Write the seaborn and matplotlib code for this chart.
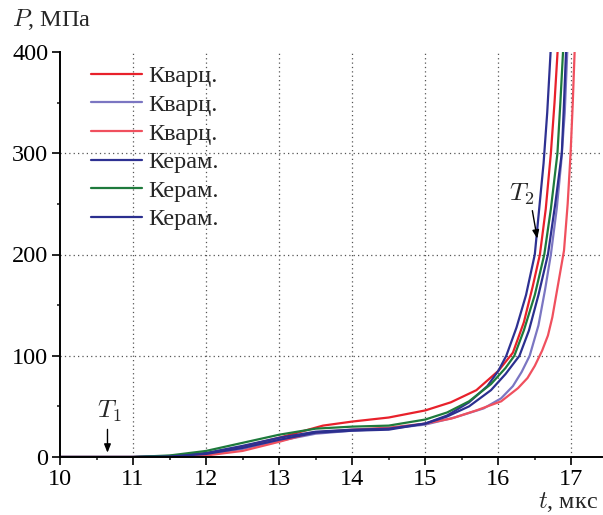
import matplotlib
matplotlib.use("Agg")
import matplotlib.pyplot as plt
import seaborn as sns
import pandas as pd
from matplotlib.ticker import MultipleLocator

# ---- data ----
t1 = [10, 11, 11.5, 12, 12.3, 12.6, 13, 13.3, 13.6, 14, 14.5, 15, 15.35, 15.7, 16.0, 16.2, 16.35, 16.47, 16.57, 16.65, 16.72, 16.77, 16.82]
p1 = [0, 0, 0.5, 3, 7, 12, 19, 25, 31, 35, 39, 46, 54, 66, 85, 103, 133, 168, 200, 245, 300, 350, 410]

t2 = [10, 11, 11.5, 12, 12.5, 13, 13.5, 14, 14.5, 15, 15.4, 15.8, 16.04, 16.2, 16.32, 16.43, 16.55, 16.64, 16.72, 16.8, 16.86, 16.91, 16.95]
p2 = [0, 0, 0.5, 2.5, 8, 16, 23, 26, 28, 32, 39, 48, 58, 70, 84, 100, 130, 165, 200, 245, 290, 340, 410]

t3 = [10, 11, 11.5, 12, 12.5, 13, 13.45, 14, 14.5, 15, 15.36, 15.7, 16.04, 16.27, 16.4, 16.5, 16.6, 16.68, 16.74, 16.82, 16.9, 16.95, 16.99, 17.02, 17.05]
p3 = [0, 0, 0.2, 1.5, 6, 15, 24, 27, 29, 33, 38, 46, 55, 68, 78, 90, 105, 120, 138, 171, 204, 250, 300, 350, 410]

t4 = [10, 11, 11.5, 12, 12.5, 13, 13.5, 14, 14.5, 15, 15.3, 15.6, 15.85, 16.0, 16.11, 16.25, 16.38, 16.5, 16.56, 16.62, 16.67, 16.72]
p4 = [0, 0, 1, 4, 11, 19, 25, 27, 28, 33, 41, 54, 70, 85, 100, 128, 160, 200, 245, 290, 340, 405]

t5 = [10, 11, 11.5, 12, 12.5, 13, 13.5, 14, 14.5, 15, 15.3, 15.6, 15.9, 16.1, 16.22, 16.35, 16.5, 16.63, 16.72, 16.81, 16.85, 16.89]
p5 = [0, 0, 1.5, 6, 14, 22, 28, 30, 31, 37, 44, 55, 72, 88, 100, 125, 160, 200, 245, 300, 350, 405]

t6 = [10, 11, 11.5, 12, 12.5, 13, 13.5, 14, 14.5, 15, 15.3, 15.6, 15.9, 16.1, 16.29, 16.42, 16.55, 16.68, 16.78, 16.87, 16.9, 16.93]
p6 = [0, 0, 0.5, 3, 9, 17, 24, 26, 27, 33, 40, 50, 66, 82, 100, 125, 160, 200, 250, 300, 350, 405]

labels = ["Кварц.", "Кварц.", "Кварц.", "Керам.", "Керам.", "Керам."]
colors = ["#e8212b", "#7b76c2", "#f0505e", "#2e3192", "#1e7a3c", "#2b2f8f"]

xticks = [10, 11, 12, 13, 14, 15, 16, 17]
yticks = [0, 100, 200, 300, 400]

# ---- style ----
sns.set_style("ticks")
plt.rcParams["font.family"] = ["Liberation Serif", "DejaVu Serif"]
plt.rcParams["mathtext.fontset"] = "cm"
FS = 17.5

fig = plt.figure(figsize=(6.03, 5.15), dpi=100)
ax = fig.add_axes([60 / 603, 1 - 457 / 515, 542 / 603, 405 / 515])

series = [(t1, p1), (t2, p2), (t3, p3), (t4, p4), (t5, p5), (t6, p6)]
for (tt, pp), lab, col in zip(series, labels, colors):
    df = pd.DataFrame({"t": tt, "P": pp})
    sns.lineplot(data=df, x="t", y="P", ax=ax, color=col, lw=1.6,
                 label=lab, sort=False, estimator=None)

ax.set_xlim(10, 17.42)
ax.set_ylim(0, 400)
ax.set_xticks(xticks)
ax.set_yticks(yticks)
ax.xaxis.set_minor_locator(MultipleLocator(0.5))
ax.yaxis.set_minor_locator(MultipleLocator(50))
ax.tick_params(axis="both", which="major", direction="out", length=5.5, width=1.2,
               labelsize=FS, pad=3, colors="black")
ax.tick_params(axis="both", which="minor", direction="out", length=2.5, width=1.2)
for s in ["top", "right"]:
    ax.spines[s].set_visible(False)
for s in ["left", "bottom"]:
    ax.spines[s].set_linewidth(1.4)
    ax.spines[s].set_color("black")
ax.set_xlabel("")
ax.set_ylabel("")

# grid (dotted), skipping the axis-edge values
for x in xticks[1:]:
    ax.axvline(x, color="#555555", lw=0.9, ls=(0, (1, 2.5)), zorder=0)
for y in yticks[1:-1]:
    ax.axhline(y, color="#555555", lw=0.9, ls=(0, (1, 2.5)), zorder=0)

leg = ax.legend(loc="upper left", bbox_to_anchor=(0.057, 0.967), frameon=False,
                fontsize=FS, handlelength=2.1, handletextpad=0.25,
                labelspacing=0.27, borderpad=0, borderaxespad=0)

# annotations
ax.text(10.67, 45, "$T_1$", fontsize=FS + 1, ha="center", va="center")
ax.annotate("", xy=(10.65, 1.5), xytext=(10.65, 30),
            arrowprops=dict(arrowstyle="-|>,head_length=0.5,head_width=0.2",
                            color="black", lw=1.0))
ax.text(16.32, 259, "$T_2$", fontsize=FS + 1, ha="center", va="center")
ax.annotate("", xy=(16.54, 213), xytext=(16.46, 246),
            arrowprops=dict(arrowstyle="-|>,head_length=0.5,head_width=0.2",
                            color="black", lw=1.0))

# axis titles
fig.text(12 / 603, 1 - 20 / 515, "$P$, МПа", fontsize=FS, ha="left", va="center")
fig.text(598 / 603, 1 - 502 / 515, "$t$, мкс", fontsize=FS, ha="right", va="center")

fig.savefig("out.png", dpi=100)
